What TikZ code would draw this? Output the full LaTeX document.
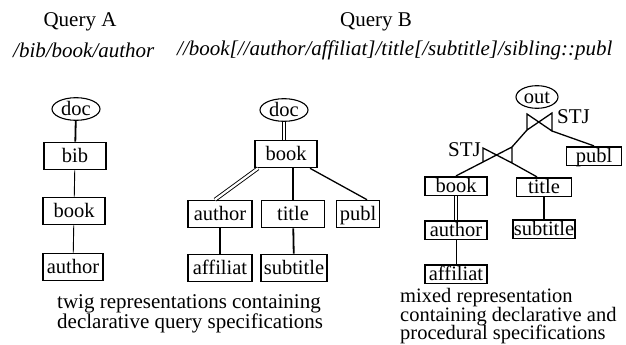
\documentclass[tikz,border=0pt]{standalone}
\usepackage{fontspec}
\setmainfont{Liberation Serif}
\usetikzlibrary{shapes.geometric,calc}
\begin{document}
\begin{tikzpicture}[x=1pt,y=-1pt,
 every node/.style={font=\fontsize{20.5}{22}\selectfont, text height=14.5pt, text depth=1.5pt},
 box/.style={draw, line width=1.6pt, inner xsep=3pt, inner ysep=5.5pt},
 mbox/.style={draw, line width=1.6pt, inner xsep=1pt, inner ysep=1.3pt},
 oval/.style={draw, ellipse, line width=1.1pt, inner sep=0pt, minimum width=48pt, minimum height=21pt},
 heavy/.style={line width=1.8pt},
 light/.style={line width=0.9pt},
 dbl/.style={double, double distance=2.2pt, line width=0.9pt},
 bow/.style={line width=1.3pt, line join=miter},
 lbl/.style={font=\fontsize{21}{22}\selectfont, text height=, text depth=},
 captxt/.style={font=\fontsize{21}{22}\selectfont, inner sep=0pt, anchor=base west, text height=12.5pt, text depth=4pt},
 captxtr/.style={captxt, font=\fontsize{20.5}{22}\selectfont},
]
\useasboundingbox (0,0) rectangle (626,345);

% headers
\node[lbl] (qa) at (80,22) {Query A};
\node[lbl] (qb) at (376,22) {Query B};
\node[lbl, anchor=west, inner sep=0pt] (xa) at (13,50) {\itshape /bib/book/author};
\node[lbl, anchor=west, inner sep=0pt] (xb) at (177,50) {\itshape //book[//author/affiliat]/title[/subtitle]/sibling::publ};

% Query A
\node[oval] (docA) at (76,109) {doc};
\node[box, minimum width=62pt] (bibA) at (75,156) {bib};
\node[box, minimum width=62pt] (bookA) at (74,211) {book};
\node[box, minimum width=60pt] (authA) at (73,267) {author};
\draw[heavy] (docA) -- (bibA);
\draw[light] (bibA) -- (bookA);
\draw[light] (bookA) -- (authA);

% Query B
\node[oval] (docB) at (284,110) {doc};
\node[box, minimum width=62pt] (bookB) at (286,154) {book};
\node[box, minimum width=64pt] (authB) at (220,214) {author};
\node[box, minimum width=63pt] (titleB) at (293,214) {title};
\node[box, minimum width=43pt] (publB) at (358,214) {publ};
\node[box, minimum width=64pt] (affB) at (220,268) {affiliat};
\node[box, minimum width=64pt] (subB) at (294,268) {subtitle};
\draw[dbl] (docB.south) -- (docB.south |- bookB.north);
\draw[dbl] ([xshift=-28pt]bookB.south) -- ([xshift=-5pt]authB.north);
\draw[heavy] (bookB.south -| titleB.north) -- (titleB.north);
\draw[line width=1.3pt] ([xshift=24pt]bookB.south) -- ([xshift=9pt]publB.north);
\draw[heavy] (authB) -- (affB);
\draw[heavy] (titleB) -- (subB);

% Mixed representation
\node[oval, minimum width=42pt, minimum height=18pt] (outM) at (537,97) {out};
\node[mbox, minimum width=62pt] (bookM) at (456,186) {book};
\node[mbox, minimum width=62pt] (authM) at (456,230) {author};
\node[mbox, minimum width=62pt] (affM) at (456,274) {affiliat};
\node[mbox, minimum width=55pt] (titleM) at (544,187) {title};
\node[mbox, minimum width=58pt] (subM) at (544,229) {subtitle};
\node[mbox, minimum width=55pt] (publM) at (594,156) {publ};

% bowtie joins
\coordinate (jLT) at (483,148); \coordinate (jLB) at (483,162);
\coordinate (jRT) at (512,147); \coordinate (jRB) at (512,163);
\coordinate (kLT) at (527,114); \coordinate (kLB) at (527,130);
\coordinate (kRT) at (552,113); \coordinate (kRB) at (552,131);
\draw[bow] (jLT) -- (jRB) -- (jRT) -- (jLB) -- cycle;
\draw[bow] (kLT) -- (kRB) -- (kRT) -- (kLB) -- cycle;
\node[lbl, anchor=east, inner sep=1pt] (stj1) at (482,150) {STJ};
\node[lbl, anchor=west, inner sep=1pt] (stj2) at (556,117) {STJ};

\draw[bow] (bookM.north) -- (jLB);
\draw[bow] ([xshift=-7pt]titleM.north) -- (jRB);
\draw[bow] (jRT) -- (kLB);
\draw[bow] (kRB) -- (publM.north);
\draw[dbl] (bookM) -- (authM);
\draw[light] (authM) -- (affM);
\draw[heavy] (titleM) -- (subM);

% captions
\node[captxt] (capL1) at (57,308) {twig representations containing};
\node[captxt] (capL2) at (57,328) {declarative query specifications};
\node[captxtr] (capR1) at (400,302.5) {mixed representation};
\node[captxtr] (capR2) at (400,321) {containing declarative and};
\node[captxtr] (capR3) at (400,339.5) {procedural specifications};
\end{tikzpicture}
\end{document}
